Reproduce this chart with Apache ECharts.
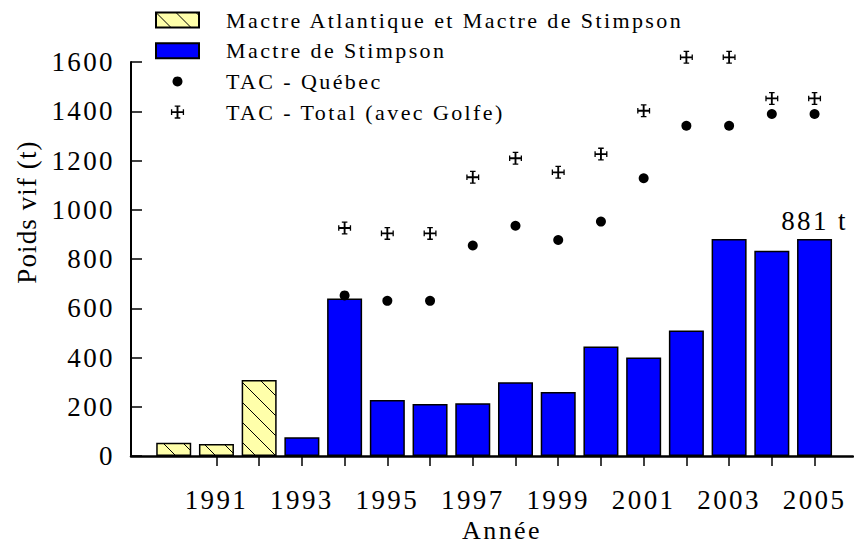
<!DOCTYPE html>
<html>
<head>
<meta charset="utf-8">
<script src="https://cdn.jsdelivr.net/npm/echarts@6/dist/echarts.min.js"></script>
<style>
html,body{margin:0;padding:0;background:#fff}
#c{width:854px;height:544px}
#c text{letter-spacing:2.4px}
#c text[style*="Times"]{letter-spacing:1.1px}
</style>
</head>
<body>
<div id="c"></div>
<script>
// ---- data ----
const atlantiqueYears = [1990, 1991, 1992];
const atlantique = [54, 49, 309];
const stimpsonYears = [1993, 1994, 1995, 1996, 1997, 1998, 1999, 2000, 2001, 2002, 2003, 2004, 2005];
const stimpson = [76, 640, 227, 211, 214, 299, 260, 445, 400, 510, 881, 834, 881];
const tacYears = [1994, 1995, 1996, 1997, 1998, 1999, 2000, 2001, 2002, 2003, 2004, 2005];
const tacQuebec = [652, 630, 630, 855, 935, 877, 952, 1128, 1341, 1341, 1389, 1389];
const tacTotal = [926, 904, 904, 1132, 1209, 1152, 1226, 1402, 1619, 1619, 1452, 1452];
const xTickYears = [1991, 1992, 1993, 1994, 1995, 1996, 1997, 1998, 1999, 2000, 2001, 2002, 2003, 2004, 2005];
const xLabelYears = [1991, 1993, 1995, 1997, 1999, 2001, 2003, 2005];
const seriesNames = ['Mactre Atlantique et Mactre de Stimpson', 'Mactre de Stimpson', 'TAC - Québec', 'TAC - Total (avec Golfe)'];
const yAxisTitle = 'Poids vif (t)';
const xAxisTitle = 'Année';

// hatch pattern
const pc = document.createElement('canvas');
pc.width = 20; pc.height = 20;
const g = pc.getContext('2d');
g.fillStyle = '#FFFFAA';
g.fillRect(0, 0, 20, 20);
g.strokeStyle = '#000';
g.lineWidth = 1;
g.beginPath();
g.moveTo(-2, -2); g.lineTo(22, 22);
g.stroke();

const FONT = 'Liberation Serif';
const crossPath = 'path://M6,0h2v6h6v2h-6v6h-2v-6h-6v-2h6z M4,0h6v1.4h-6z M4,12.6h6v1.4h-6z M0,4h1.4v6h-1.4z M12.6,4h1.4v6h-1.4z';
const crossLegend = 'path://M-1,-1M15,15M6,0h2v6h6v2h-6v6h-2v-6h-6v-2h6z M4,0h6v1.4h-6z M4,12.6h6v1.4h-6z M0,4h1.4v6h-1.4z M12.6,4h1.4v6h-1.4z';
const dotLegend = 'path://M0,0M15,15M7.5,2.5A5,5,0,1,1,7.49,2.5Z';

const pair = (xs, ys) => xs.map((x, i) => [x, ys[i]]);
const lastIdx = stimpson.length - 1;

const chart = echarts.init(document.getElementById('c'), null, {renderer: 'svg'});
chart.setOption({
  animation: false,
  backgroundColor: '#fff',
  grid: {left: 131, right: 1, top: 62, bottom: 88},
  legend: {
    orient: 'vertical', left: 155, top: 9, padding: 0,
    itemWidth: 43, itemHeight: 15, itemGap: 8.7,
    textStyle: {fontFamily: FONT, fontSize: 22, color: '#000', padding: [0, 0, 0, 22], lineHeight: 22},
    data: [
      {name: seriesNames[0], icon: 'rect'},
      {name: seriesNames[1], icon: 'rect'},
      {name: seriesNames[2], icon: dotLegend, itemStyle: {color: '#000', opacity: 1}},
      {name: seriesNames[3], icon: crossLegend, itemStyle: {color: '#000', opacity: 1}}
    ]
  },
  xAxis: {
    type: 'value', min: 1989, max: 2005.9, interval: 1,
    axisLine: {show: true, lineStyle: {color: '#000', width: 2.5}},
    axisTick: {show: true, inside: false, length: 10, customValues: xTickYears, lineStyle: {color: '#000', width: 1.5}},
    axisLabel: {customValues: xLabelYears, margin: 30, fontFamily: FONT, fontSize: 27, color: '#000', formatter: v => String(v)},
    splitLine: {show: false}
  },
  yAxis: {
    type: 'value', min: 0, max: 1600, interval: 200,
    axisLine: {show: true, lineStyle: {color: '#000', width: 2}},
    axisTick: {show: true, inside: true, length: 11, lineStyle: {color: '#000', width: 1.5}},
    axisLabel: {margin: 16, fontFamily: FONT, fontSize: 27, color: '#000', formatter: v => String(v)},
    splitLine: {show: false}
  },
  graphic: [
    {type: 'text', x: 27, y: 212, rotation: Math.PI / 2,
     style: {text: yAxisTitle, font: '27px "Liberation Serif", Times', fill: '#000', align: 'center', verticalAlign: 'middle'}},
    {type: 'text', x: 502, y: 530,
     style: {text: xAxisTitle, font: '26px "Liberation Serif"', fill: '#000', align: 'center', verticalAlign: 'middle'}}
  ],
  series: [
    {
      name: seriesNames[0], type: 'bar', barWidth: 35, barGap: '-100%',
      itemStyle: {color: {image: pc, repeat: 'repeat'}, borderColor: '#000', borderWidth: 1.5},
      data: pair(atlantiqueYears, atlantique)
    },
    {
      name: seriesNames[1], type: 'bar', barWidth: 35, barGap: '-100%',
      itemStyle: {color: '#0000FF', borderColor: '#000', borderWidth: 1.5},
      data: pair(stimpsonYears, stimpson).map((d, i) => i === lastIdx ? {
        value: d,
        label: {show: true, position: 'top', distance: 5, fontFamily: FONT, fontSize: 27, color: '#000',
                formatter: p => p.value[1] + ' t'}
      } : d)
    },
    {
      name: seriesNames[2], type: 'scatter', symbol: 'circle', symbolSize: 10, clip: false,
      itemStyle: {color: '#000', opacity: 1},
      data: pair(tacYears, tacQuebec)
    },
    {
      name: seriesNames[3], type: 'scatter', symbol: crossPath, symbolSize: 13, clip: false,
      itemStyle: {color: '#000', opacity: 1},
      data: pair(tacYears, tacTotal)
    }
  ]
});
</script>
</body>
</html>
